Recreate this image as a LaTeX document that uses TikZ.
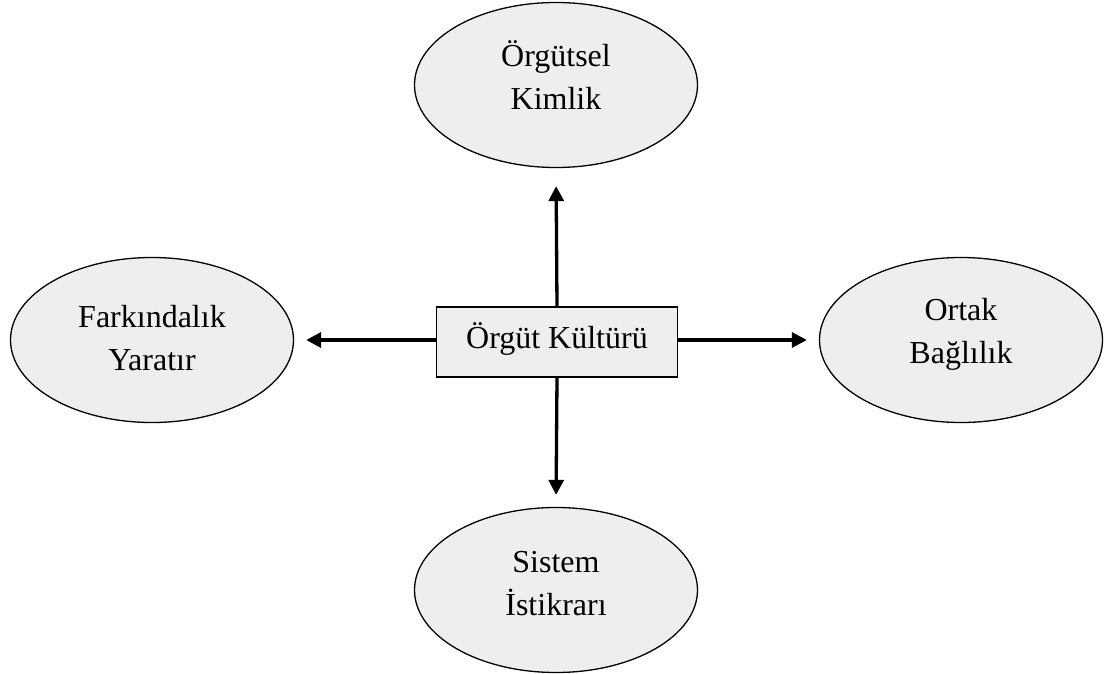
\documentclass[tikz,border=0pt]{standalone}
\usepackage{fontspec}
\setmainfont{Liberation Serif}
\usetikzlibrary{arrows.meta,shapes.geometric}
\definecolor{shapefill}{RGB}{238,238,238}
\begin{document}
\begin{tikzpicture}[x=1pt,y=-1pt,
  oval/.style={ellipse, draw, line width=1.3pt, fill=shapefill,
    minimum width=283pt, minimum height=165pt, inner sep=0pt},
  box/.style={rectangle, draw, line width=1.8pt, fill=shapefill,
    minimum width=241pt, minimum height=70pt, inner sep=0pt,
    text height=18pt, text depth=6pt, font=\fontsize{32}{43}\selectfont},
  lbl/.style={align=center, inner sep=0pt, font=\fontsize{32}{43}\selectfont},
  link/.style={line width=3.3pt, -{Triangle[length=15pt,width=15pt]}, shorten >=12pt}
]
\useasboundingbox (0,0) rectangle (1109,674);

% central concept
\node[box] (core) at (557,342) {Örgüt Kültürü};

% surrounding outcomes
\node[oval] (up)    at (556,85)  {};
\node[oval] (left)  at (152,340) {};
\node[oval] (right) at (961,340) {};
\node[oval] (down)  at (556,590) {};

\node[lbl] (upT)    at (556,75)    {Örgütsel\\Kimlik};
\node[lbl] (leftT)  at (152,338)   {Farkındalık\\Yaratır};
\node[lbl] (rightT) at (961,334)   {Ortak\\Bağlılık};
\node[lbl] (downT)  at (556,583.5) {Sistem\\İstikrarı};

% connectors
\draw[link, shorten >=18pt] (core.north) -- (up.south);
\draw[link] (core.south) -- (down.north);
\draw[link] (core.west |- 0,340) -- (left.east |- 0,340);
\draw[link] (core.east |- 0,340) -- (right.west |- 0,340);
\end{tikzpicture}
\end{document}
